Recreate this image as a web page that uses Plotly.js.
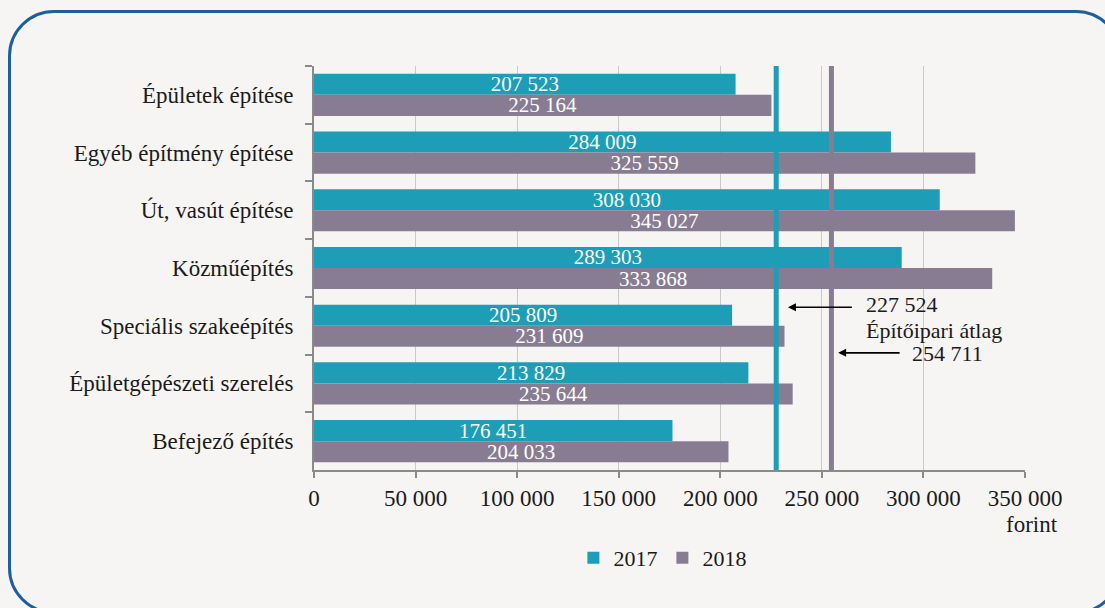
<!DOCTYPE html>
<html>
<head>
<meta charset="utf-8">
<script src="https://cdn.plot.ly/plotly-3.0.1.min.js"></script>
<style>
  html, body { margin:0; padding:0; background:#f6f5f3; width:1105px; height:608px; overflow:hidden; }
  #frame { position:absolute; left:8px; top:10px; width:1108px; height:598px; border:3px solid #1b5f9f; border-radius:46px; }
  #chart { position:absolute; left:0; top:0; width:1105px; height:608px; }
</style>
</head>
<body>
<div id="frame"></div>
<div id="chart"></div>
<script>
const categories = ["Épületek építése","Egyéb építmény építése","Út, vasút építése","Közműépítés","Speciális szakeépítés","Épületgépészeti szerelés","Befejező építés"];
const values2017 = [207523, 284009, 308030, 289303, 205809, 213829, 176451];
const values2018 = [225164, 325559, 345027, 333868, 231609, 235644, 204033];
const avg2017 = 227524;
const avg2018 = 254711;
const seriesNames = ["2017", "2018"];
const avgLabel = "Építőipari átlag";
const unitLabel = "forint";

const fmt = v => String(v).replace(/\B(?=(\d{3})+(?!\d))/g, " ");
const FONT = "'Liberation Serif', 'DejaVu Serif', serif";
const TEAL = "#1e9db6";
const GREY = "#887c93";
const INK = "#1a1a1a";

const common = {
  type: "bar", orientation: "h", y: categories,
  textposition: "inside", insidetextanchor: "middle", constraintext: "none",
  textfont: {family: FONT, size: 21, color: "#ffffff"},
  hoverinfo: "skip"
};
const traces = [
  Object.assign({}, common, {name: seriesNames[0], x: values2017, text: values2017.map(fmt), marker: {color: TEAL}}),
  Object.assign({}, common, {name: seriesNames[1], x: values2018, text: values2018.map(fmt), marker: {color: GREY}})
];

const layout = {
  width: 1105, height: 608,
  margin: {l: 314, r: 80, t: 66, b: 138},
  paper_bgcolor: "rgba(0,0,0,0)", plot_bgcolor: "rgba(0,0,0,0)",
  separators: ", ",
  font: {family: FONT, size: 22, color: INK},
  barmode: "group", bargap: 0.27, bargroupgap: 0,
  xaxis: {
    range: [0, 350000], dtick: 50000, tick0: 0, tickformat: ",d",
    showgrid: true, gridcolor: "#c9c9c9", gridwidth: 1,
    showline: true, linecolor: "#8a8a8a", linewidth: 2,
    ticks: "outside", ticklen: 6, tickcolor: "#8a8a8a", tickwidth: 2,
    tickfont: {family: FONT, size: 23, color: INK},
    zeroline: false, fixedrange: true
  },
  yaxis: {
    autorange: "reversed", type: "category",
    showline: true, linecolor: "#8a8a8a", linewidth: 2,
    ticks: "outside", ticklen: 7, tickcolor: "#8a8a8a", tickwidth: 2,
    tickson: "boundaries", ticklabelstandoff: 14,
    tickfont: {family: FONT, size: 23, color: INK},
    showgrid: false, fixedrange: true
  },
  shapes: [
    {type: "line", xref: "x", yref: "paper", x0: avg2017, x1: avg2017, y0: 0, y1: 1, line: {color: TEAL, width: 5}},
    {type: "line", xref: "x", yref: "paper", x0: avg2018, x1: avg2018, y0: 0, y1: 1, line: {color: GREY, width: 5}}
  ],
  annotations: [
    {xref: "x", yref: "paper", x: 233300, y: 0.403, ax: 267000, ay: 0.403, axref: "x", ayref: "paper",
     text: " ", showarrow: true, arrowhead: 2, arrowsize: 1, arrowwidth: 1.6, arrowcolor: "#000"},
    {xref: "x", yref: "paper", x: 258000, y: 0.290, ax: 290500, ay: 0.290, axref: "x", ayref: "paper",
     text: " ", showarrow: true, arrowhead: 2, arrowsize: 1, arrowwidth: 1.6, arrowcolor: "#000"},
    {xref: "x", yref: "paper", x: 270500, y: 0.409, xanchor: "left", yanchor: "middle", showarrow: false,
     text: fmt(avg2017), font: {family: FONT, size: 22, color: INK}},
    {xref: "x", yref: "paper", x: 270500, y: 0.345, xanchor: "left", yanchor: "middle", showarrow: false,
     text: avgLabel, font: {family: FONT, size: 22, color: INK}},
    {xref: "x", yref: "paper", x: 293500, y: 0.288, xanchor: "left", yanchor: "middle", showarrow: false,
     text: fmt(avg2018), font: {family: FONT, size: 22, color: INK}},
    {xref: "paper", yref: "paper", x: 1.01, y: -0.136, xanchor: "center", yanchor: "middle", showarrow: false,
     text: unitLabel, font: {family: FONT, size: 23, color: INK}}
  ],
  showlegend: true,
  legend: {orientation: "h", x: 0.49, xanchor: "center", y: -0.218, yanchor: "middle",
           font: {family: FONT, size: 22, color: INK}, bgcolor: "rgba(0,0,0,0)",
           itemwidth: 30, traceorder: "normal"}
};

Plotly.newPlot("chart", traces, layout, {displayModeBar: false, staticPlot: true});
</script>
</body>
</html>
